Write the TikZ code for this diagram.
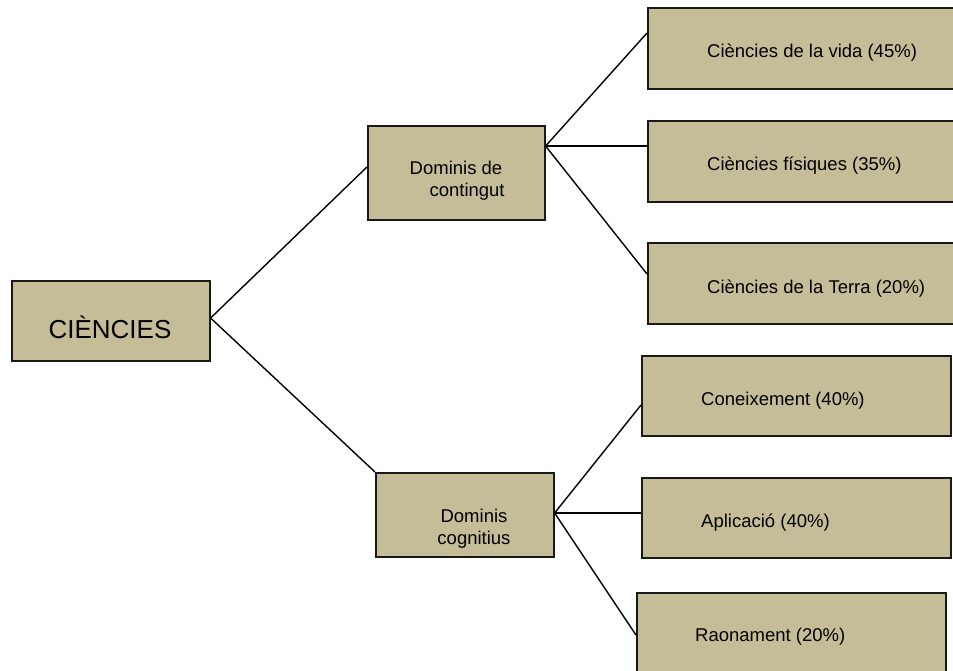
\documentclass[tikz,border=0pt]{standalone}
\usepackage{fontspec}
\setmainfont{Liberation Sans}
\definecolor{tan}{HTML}{C4BD97}
\begin{document}
\begin{tikzpicture}[x=1pt,y=-1pt,
  box/.style={draw=black!90, line width=1.6pt, fill=tan, rectangle, inner sep=0pt, anchor=north west},
  lbl/.style={font=\fontsize{18.5pt}{22pt}\selectfont, inner sep=0pt, anchor=west},
  conn/.style={draw=black, line width=1.4pt}]
\useasboundingbox (0,0) rectangle (953,670);
\clip (0,0) rectangle (953,670);
% root
\node[box, minimum width=198pt, minimum height=80pt] (root) at (11,280) {};
\node[font=\fontsize{26pt}{30pt}\selectfont, inner sep=0pt] (roott) at (110,327) {CIÈNCIES};
% level 1
\node[box, minimum width=177pt, minimum height=94pt] (cont) at (367,125) {};
\node[lbl, align=center, anchor=center, font=\fontsize{18.5pt}{22pt}\selectfont] (contt) at (456,181) {Dominis de\\\hspace*{1.2em}contingut};
\node[box, minimum width=178pt, minimum height=84pt] (cogn) at (375,472) {};
\node[lbl, align=center, anchor=center, font=\fontsize{18.5pt}{22pt}\selectfont] (cognt) at (474,529) {Dominis\\cognitius};
% level 2 top
\node[box, minimum width=320pt, minimum height=81pt] (b1) at (647,7) {};
\node[lbl] (t1) at (707,53) {Ciències de la vida (45\%)};
\node[box, minimum width=320pt, minimum height=81pt] (b2) at (647,120) {};
\node[lbl] (t2) at (707,166) {Ciències físiques (35\%)};
\node[box, minimum width=320pt, minimum height=81pt] (b3) at (647,242) {};
\node[lbl] (t3) at (707,289) {Ciències de la Terra (20\%)};
% level 2 bottom
\node[box, minimum width=309pt, minimum height=80pt] (b4) at (641,355) {};
\node[lbl] (t4) at (701,401) {Coneixement (40\%)};
\node[box, minimum width=309pt, minimum height=80pt] (b5) at (641,477) {};
\node[lbl] (t5) at (701,523) {Aplicació (40\%)};
\node[box, minimum width=309pt, minimum height=100pt] (b6) at (636,592) {};
\node[lbl] (t6) at (695,637) {Raonament (20\%)};
% connector anchor points
\coordinate (r0) at (root.east |- 0,318);
\coordinate (c0) at (cont.east |- 0,146);
\coordinate (g0) at (cogn.east |- 0,513);
\draw[conn] (r0) -- (cont.west |- 0,167);
\draw[conn] (r0) -- (cogn.north west);
\draw[conn] (c0) -- (b1.west |- 0,33);
\draw[conn] (c0) -- (b2.west |- c0);
\draw[conn] (c0) -- (b3.west |- 0,274);
\draw[conn] (g0) -- (b4.west |- 0,405);
\draw[conn] (g0) -- (b5.west |- g0);
\draw[conn] (g0) -- (b6.west |- 0,635);
\end{tikzpicture}
\end{document}
